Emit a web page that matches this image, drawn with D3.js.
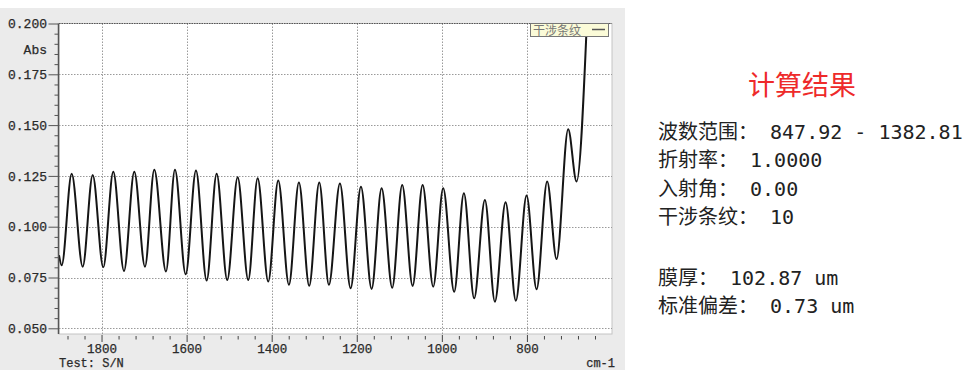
<!DOCTYPE html>
<html><head><meta charset="utf-8">
<script src="https://cdn.jsdelivr.net/npm/d3@7"></script>
<style>
body{margin:0;background:#fff;}
svg{display:block;}
.ax text{font-family:"Liberation Mono",monospace;font-size:13px;fill:#2a2a2a;stroke:#2a2a2a;stroke-width:0.25px;}
.ax.xb text{font-size:12.5px;}
.foot text{font-family:"Liberation Mono",monospace;font-size:12px;fill:#2a2a2a;stroke:#2a2a2a;stroke-width:0.25px;}
</style></head>
<body><svg id="c" width="965" height="370"></svg>
<script>
// ---- data ----
const wavenumbers = [1900, 1893.7, 1870.2, 1844.3, 1820.8, 1795.9, 1772.4, 1747.2, 1723.0, 1697.9, 1676.0, 1648.5, 1627.4, 1602.2,
  1578.0, 1552.9, 1529.4, 1504.5, 1480.0, 1455.1, 1433.0, 1408.1, 1384.6, 1359.5, 1336.0, 1311.8, 1288.2, 1265.5,
  1239.6, 1214.5, 1190.2, 1165.1, 1141.6, 1116.7, 1093.2, 1068.7, 1045.2, 1020.3, 996.8, 971.0, 948.2, 924.0,
  898.8, 875.3, 850.2, 826.0, 800.8, 777.3, 752.4, 730.3, 703.0, 683.3, 659.0];
const absorbance = [0.0860, 0.0810, 0.1260, 0.0803, 0.1255, 0.0800, 0.1270, 0.0782, 0.1270, 0.0803, 0.1280, 0.0780, 0.1280, 0.0766,
  0.1276, 0.0735, 0.1260, 0.0738, 0.1243, 0.0738, 0.1238, 0.0730, 0.1227, 0.0714, 0.1217, 0.0709, 0.1217, 0.0714,
  0.1213, 0.0697, 0.1197, 0.0694, 0.1189, 0.0700, 0.1205, 0.0709, 0.1205, 0.0705, 0.1189, 0.0680, 0.1165, 0.0648,
  0.1132, 0.0631, 0.1120, 0.0636, 0.1153, 0.0692, 0.1222, 0.0841, 0.1480, 0.1222, 0.2010];
const xMajorTicks = [1800, 1600, 1400, 1200, 1000, 800];
const xMinorTicks = [1880, 1840, 1760, 1720, 1680, 1640, 1560, 1520, 1480, 1440, 1360, 1320, 1280, 1240,
  1160, 1120, 1080, 1040, 960, 920, 880, 840, 760, 720, 680, 640];
const yMajorTicks = [0.050, 0.075, 0.100, 0.125, 0.150, 0.175, 0.200];
const yMinorTicks = [0.055, 0.060, 0.065, 0.070, 0.080, 0.085, 0.090, 0.095, 0.105, 0.110, 0.115, 0.120,
  0.130, 0.135, 0.140, 0.145, 0.155, 0.160, 0.165, 0.170, 0.180, 0.185, 0.190, 0.195];
const seriesName = "干涉条纹";
const yAxisLabel = "Abs";
const xAxisUnit = "cm-1";
const footText = "Test: S/N";
const resultTitle = "计算结果";
const resultLines = ["波数范围： 847.92 - 1382.81", "折射率： 1.0000", "入射角： 0.00", "干涉条纹： 10", "", "膜厚： 102.87 um", "标准偏差： 0.73 um"];

// ---- layout ----
const svg = d3.select("#c");
const L = 59, R = 612, T = 23.5, B = 334;
const x = d3.scaleLinear().domain([1900, 600]).range([L, R]);
const y = d3.scaleLinear().domain([0.050, 0.200]).range([328.3, T]);

// gray panel
svg.append("rect").attr("x", 0).attr("y", 8).attr("width", 625).attr("height", 362).attr("fill", "#ebebeb");
// plot area
svg.append("rect").attr("x", L).attr("y", T).attr("width", R - L).attr("height", B - T)
  .attr("fill", "#fff").attr("stroke", "#c4c4c4").attr("stroke-width", 1);

// grid
const grid = svg.append("g");
grid.selectAll("line.h").data(yMajorTicks.filter(d => d < 0.2)).join("line")
  .attr("x1", L).attr("x2", R).attr("y1", d => Math.round(y(d)) + 0.5).attr("y2", d => Math.round(y(d)) + 0.5)
  .attr("stroke", "#9a9a9a").attr("stroke-dasharray", "1.5,1.5");
grid.selectAll("line.v").data(xMajorTicks).join("line")
  .attr("y1", T).attr("y2", B).attr("x1", d => Math.round(x(d)) + 0.5).attr("x2", d => Math.round(x(d)) + 0.5)
  .attr("stroke", "#9a9a9a").attr("stroke-dasharray", "1.5,1.5");
// top dotted border at 0.200
svg.append("line").attr("x1", L).attr("x2", R).attr("y1", y(0.2)).attr("y2", y(0.2))
  .attr("stroke", "#555").attr("stroke-width", 1.2).attr("stroke-dasharray", "1.5,1");

// clip
svg.append("clipPath").attr("id", "clip").append("rect").attr("x", L).attr("y", T).attr("width", R - L).attr("height", B - T);

// spectrum line
const pts = wavenumbers.map((w, i) => [w, absorbance[i]]);
svg.append("path").datum(pts).attr("clip-path", "url(#clip)")
  .attr("fill", "none").attr("stroke", "#151515").attr("stroke-width", 2).attr("stroke-linejoin", "round")
  .attr("d", d3.line().x(d => x(d[0])).y(d => y(d[1])).curve(d3.curveMonotoneX));

// y axis
const yAx = svg.append("g").attr("class", "ax").attr("transform", `translate(${L - 0.5},0)`)
  .call(d3.axisLeft(y).tickValues(yMajorTicks).tickSize(10).tickPadding(1.5).tickFormat(d3.format(".3f")));
yAx.select(".domain").attr("stroke", "#555").attr("stroke-width", 1.5).attr("d", `M0,${T}V${B}`);
yAx.selectAll(".tick line").attr("stroke", "#555");
const yMin = svg.append("g").attr("class", "ax").attr("transform", `translate(${L - 0.5},0)`)
  .call(d3.axisLeft(y).tickValues(yMinorTicks).tickSize(4).tickFormat(""));
yMin.select(".domain").remove();
yMin.selectAll(".tick line").attr("stroke", "#555");
const extra = svg.append("g").attr("class", "ax");
extra.append("text").attr("x", 47).attr("y", 54).attr("text-anchor", "end").text(yAxisLabel);

// x axis
const xAx = svg.append("g").attr("class", "ax xb").attr("transform", `translate(0,${B + 1})`)
  .call(d3.axisBottom(x).tickValues(xMajorTicks).tickSize(7).tickPadding(2).tickFormat(d3.format("d")));
xAx.select(".domain").remove();
xAx.selectAll(".tick line").attr("stroke", "#444");
const xMin = svg.append("g").attr("class", "ax").attr("transform", `translate(0,${B + 2})`)
  .call(d3.axisBottom(x).tickValues(xMinorTicks).tickSize(3.5).tickFormat(""));
xMin.select(".domain").remove();
xMin.selectAll(".tick line").attr("stroke", "#444");

const foot = svg.append("g").attr("class", "foot");
foot.append("text").attr("x", 59).attr("y", 367).text(footText);
foot.append("text").attr("x", 615).attr("y", 367).attr("text-anchor", "end").text(xAxisUnit);

// legend
const lg = svg.append("g");
lg.append("rect").attr("x", 530.5).attr("y", 23.5).attr("width", 78).attr("height", 13)
  .attr("fill", "#fbfbd8").attr("stroke", "#777");
lg.append("text").attr("x", 533).attr("y", 34.5).attr("font-family", "Noto Sans CJK SC").attr("font-size", "12px")
  .attr("fill", "#777").text(seriesName);
lg.append("line").attr("x1", 592).attr("x2", 605).attr("y1", 29.5).attr("y2", 29.5).attr("stroke", "#555").attr("stroke-width", 1.5);

// result panel
svg.append("text").attr("x", 802).attr("y", 95).attr("text-anchor", "middle")
  .attr("font-family", "Noto Sans CJK SC").attr("font-size", "27px").attr("fill", "#ee2a2a").text(resultTitle);
const baselines = [138.5, 167, 195.5, 224, 0, 285, 313];
resultLines.forEach((t, i) => {
  if (!t) return;
  svg.append("text").attr("x", 658).attr("y", baselines[i])
    .attr("font-family", "DejaVu Sans Mono, Noto Sans CJK SC").attr("font-size", "20px").attr("fill", "#222").text(t);
});
</script></body></html>
